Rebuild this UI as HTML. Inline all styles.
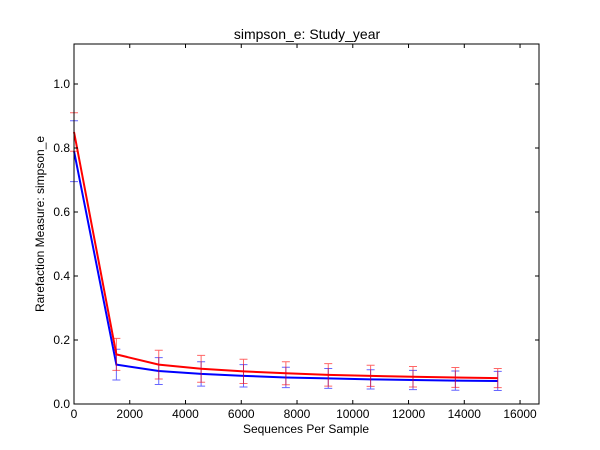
<!DOCTYPE html>
<html><head><meta charset="utf-8"><style>
body{margin:0;background:#fff;}
svg{display:block;font-family:"Liberation Sans",sans-serif;}
</style></head><body>
<svg id="chart" width="600" height="450">
<rect width="600" height="450" fill="#fff"/>
<text x="307" y="39" font-size="14" text-anchor="middle">simpson_e: Study_year</text>
<g id="marks"></g>
<rect x="74" y="44" width="465" height="360" fill="none" stroke="#000" stroke-width="1"/>
<g id="axes" font-size="12"></g>
<text x="306" y="433" font-size="12" text-anchor="middle">Sequences Per Sample</text>
<text x="44" y="224" font-size="12" text-anchor="middle" transform="rotate(-90 44 224)">Rarefaction Measure: simpson_e</text>
</svg>
<script>
const xs=[1,1520,3040,4560,6080,7600,9120,10640,12160,13680,15200];
const redVals=[0.85,0.155,0.123,0.110,0.102,0.096,0.091,0.088,0.085,0.083,0.081];
const redErr=[0.06,0.05,0.045,0.042,0.038,0.036,0.035,0.033,0.032,0.031,0.03];
const blueVals=[0.79,0.123,0.103,0.094,0.088,0.083,0.080,0.077,0.075,0.073,0.072];
const blueErr=[0.095,0.048,0.042,0.038,0.035,0.032,0.031,0.03,0.03,0.03,0.03];
const xTicks=[0,2000,4000,6000,8000,10000,12000,14000,16000];
const yTicks=[0.0,0.2,0.4,0.6,0.8,1.0];
const X0=74,X1=539,Y0=404,Y1=44,XMAX=16680,YMAX=1.125;
const sx=v=>X0+v/XMAX*(X1-X0);
const sy=v=>Y0-v/YMAX*(Y0-Y1);
const NS="http://www.w3.org/2000/svg";
function mk(t,a,p){const e=document.createElementNS(NS,t);for(const k in a)e.setAttribute(k,a[k]);p.appendChild(e);return e;}
const marks=document.getElementById('marks');
function series(vals,errs,color,name){
  const g=mk('g',{},marks);
  
  
  xs.forEach((x,i)=>{
    const px=sx(x),t=sy(vals[i]+errs[i]),b=sy(vals[i]-errs[i]);
    const eb=mk('path',{d:`M${px},${t}V${b}M${px-4},${t}H${px+4}M${px-4},${b}H${px+4}`,stroke:color,'stroke-width':1,'stroke-opacity':0.6,fill:'none'},g);
    
    
  });
  const l=mk('polyline',{points:xs.map((x,i)=>sx(x)+','+sy(vals[i])).join(' '),stroke:color,'stroke-width':2,fill:'none'},g);
  
  
}
series(blueVals,blueErr,'#0000ff','blue');
series(redVals,redErr,'#ff0000','red');
const axes=document.getElementById('axes');
xTicks.forEach(v=>{
  const px=sx(v);
  mk('path',{d:`M${px},${Y0}v-4M${px},${Y1}v4`,stroke:'#000'},axes);
  const t=mk('text',{x:px,y:Y0+14,'text-anchor':'middle'},axes);t.textContent=v;
  
  
});
yTicks.forEach(v=>{
  const py=sy(v);
  mk('path',{d:`M${X0},${py}h4M${X1},${py}h-4`,stroke:'#000'},axes);
  const t=mk('text',{x:X0-4,y:py+4,'text-anchor':'end'},axes);t.textContent=v.toFixed(1);
  
  
});
</script>
</body></html>
